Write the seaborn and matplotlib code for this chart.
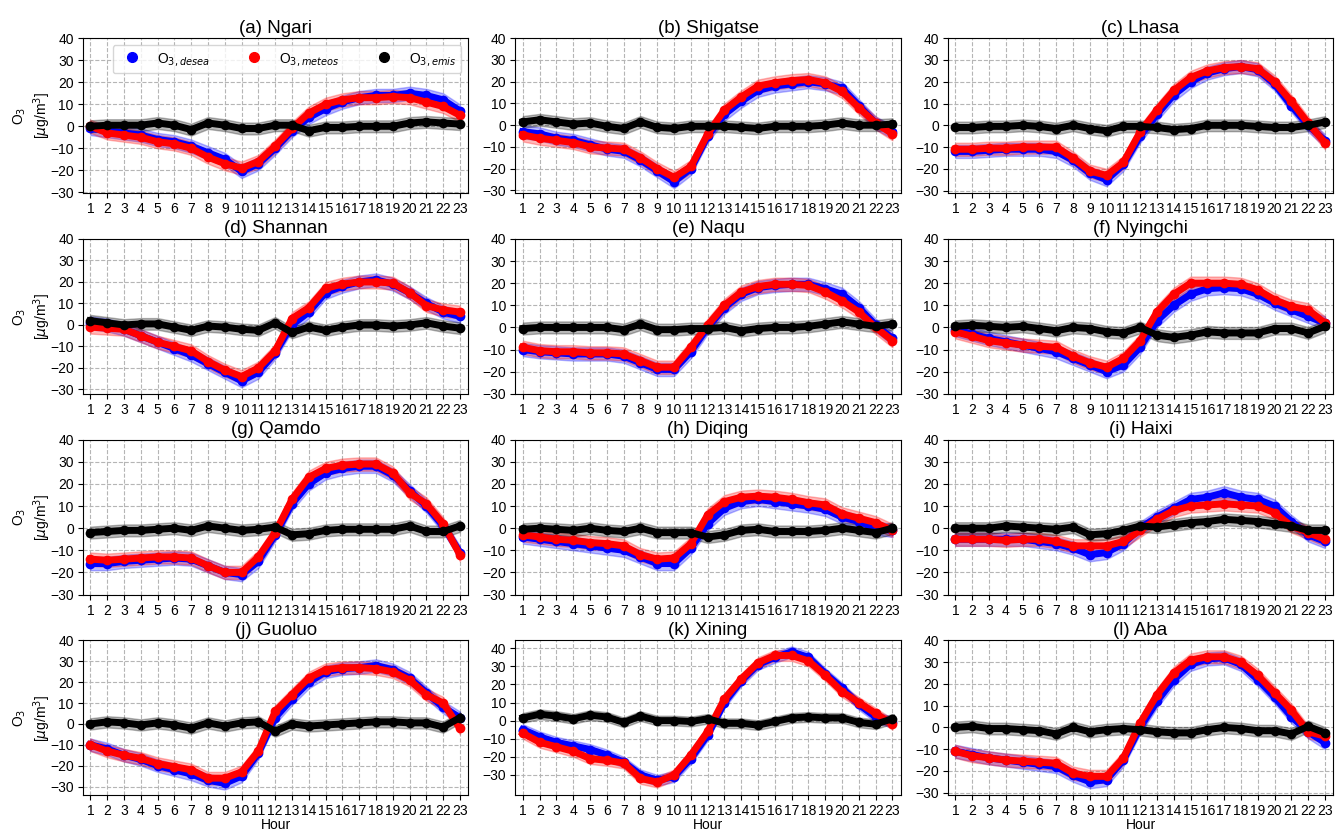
import matplotlib
matplotlib.use("Agg")
import matplotlib.pyplot as plt
from matplotlib.lines import Line2D
import numpy as np
import pandas as pd
import seaborn as sns

plt.rcParams['font.family'] = ['Liberation Sans', 'DejaVu Sans']

HOURS = list(range(1, 24))
SITES = ["(a) Ngari", "(b) Shigatse", "(c) Lhasa", "(d) Shannan", "(e) Naqu", "(f) Nyingchi",
         "(g) Qamdo", "(h) Diqing", "(i) Haixi", "(j) Guoluo", "(k) Xining", "(l) Aba"]
SERIES = ["desea", "meteos", "emis"]
LEGEND_LABELS = [r"O$_{3,desea}$", r"O$_{3,meteos}$", r"O$_{3,emis}$"]

NGARI_DESEA = [-1, -2, -3, -4, -6, -7, -9, -12, -15, -20.5, -17, -10, -2, 4, 8, 11, 13, 14, 14, 15, 14, 12, 7]
NGARI_METEOS = [0, -3, -4, -5, -7, -8, -10, -14, -17, -19, -16, -9, -1, 6, 10, 12, 13, 13, 13.5, 13, 11, 9, 5]
NGARI_EMIS = [0, 0.5, 0.5, 0.5, 1.5, 0.5, -1.5, 1.5, 0.5, -1, -1, 0.5, 0.5, -2, -0.5, -0.5, 0, 0, 0, 1.5, 2, 1.5, 1]

SHIGATSE_DESEA = [-3, -4, -6, -7, -9, -11, -12, -16, -21, -26, -20, -5, 5, 11, 16, 18, 19, 20, 19, 17, 9, 1, -3]
SHIGATSE_METEOS = [-4.5, -6, -7, -8, -10, -10.5, -11, -15, -20, -24, -19, -4, 7, 13, 18, 19.5, 20.5, 21, 19.5, 15.5, 8, 1, -4]
SHIGATSE_EMIS = [1.5, 2.5, 1.5, 0.5, 1, -0.5, -1.5, 1.5, -1, -1.5, -0.5, -0.5, -0.5, -1, -1.5, -0.5, -0.5, -0.5, 0, 1, 0, 0, 0.5]

LHASA_DESEA = [-12, -12, -11.5, -11, -11, -11, -12, -16, -22, -25, -18, -5, 5, 14, 20, 24, 26, 27, 25.5, 19, 9, 0, -7]
LHASA_METEOS = [-11, -11, -10.5, -10.5, -10, -10, -10, -15, -21, -23, -17, -3, 7, 16, 22, 25, 26.5, 27, 26, 20, 11, 1, -8]
LHASA_EMIS = [-1, -1, -0.5, -0.5, 0, -0.5, -1.5, 0, -1.5, -2.5, -0.5, -0.5, -1, -2, -1.5, 0, 0, 0, -0.5, -1, -1, 0, 1.5]

SHANNAN_DESEA = [1, 0, -2, -5, -8, -11, -14, -18, -22, -26, -22, -13, 0, 6, 15, 18, 20, 21, 19, 15, 10, 6, 4]
SHANNAN_METEOS = [-1, -1.5, -2, -5, -8, -10, -12, -17, -21, -24, -20, -12, 3, 8, 17, 19, 20, 20, 19.5, 15, 9, 7, 6]
SHANNAN_EMIS = [2, 1, 0, 0.5, 0.5, -1, -2.5, -0.5, -1, -2, -2.5, 1, -3.5, -1, -2.5, -1, 0, 0, -0.5, 0, 1, -0.5, -1.5]

NAQU_DESEA = [-10, -11, -11.5, -12, -12, -12, -13, -16, -19, -19, -11, 0, 9, 15, 18, 19, 19.5, 19.5, 17.5, 15, 9, 1, -5]
NAQU_METEOS = [-9, -10.5, -11, -11, -11.5, -11.5, -12, -15, -18, -18, -9, 1, 10, 16, 18.5, 19.5, 19.5, 19, 16, 12, 7, 0, -6]
NAQU_EMIS = [-0.5, 0, 0, 0, 0, 0, -1, 1.5, -1, -1, -0.5, -0.5, 0, -1.5, -0.5, 0, 0, 0.5, 1.5, 2.5, 1.5, 0.5, 1.5]

NYINGCHI_DESEA = [-1, -3, -5, -6.5, -8, -9.5, -11, -14, -17, -20, -17, -9, 3, 10, 15, 17.5, 18, 17.5, 15, 11, 8, 5, 2]
NYINGCHI_METEOS = [-2, -4, -6, -7, -8, -8.5, -9, -13, -16, -18, -14, -6, 7, 15, 20, 20, 20, 19.5, 17, 12.5, 9.5, 8, 2]
NYINGCHI_EMIS = [0.5, 1, 0.5, 0, 0.5, -0.5, -1.5, 0, -0.5, -2, -2.5, 0, -3.5, -4.5, -3.5, -2, -2.5, -2.5, -2.5, -0.5, -0.5, -2.5, 0.5]

QAMDO_DESEA = [-16, -16, -15, -14.5, -14, -13.5, -14, -17, -20, -21, -15, -3, 11, 20, 25, 27, 28, 28, 24, 17, 10, 1, -11]
QAMDO_METEOS = [-14, -14.5, -14, -13.5, -13, -13, -13.5, -17, -20, -20, -13, -2, 13, 23, 27, 28.5, 29, 29, 25, 16, 11, 2, -12]
QAMDO_EMIS = [-2, -1.5, -1, -1, -0.5, 0, -1, 1, 0, -1, -0.5, 0.5, -3, -2.5, -1, -0.5, -0.5, -0.5, -0.5, 1, -1.5, -1.5, 1]

DIQING_DESEA = [-4, -5, -6, -7, -8, -9, -10, -13, -16, -16, -9, 2, 9, 12, 13, 12, 11, 10, 8.5, 5, 3, 0, -1]
DIQING_METEOS = [-3, -4, -5, -5.5, -6.5, -7, -8, -12, -14, -13.5, -7, 6, 12, 14, 14.5, 14, 13, 11.5, 10.5, 6.5, 4.5, 2.5, -1]
DIQING_EMIS = [-0.5, 0, -0.5, -1, 0, -1, -1.5, 0, -2, -2, -2, -4, -3, -1, -0.5, -1.5, -1.5, -1.5, -1, 0, -1, -2, 0]

HAIXI_DESEA = [-5, -5, -5, -5, -5, -6, -7, -9, -12, -11, -7, 0, 5, 9, 13, 14, 16, 14, 13, 10, 3, -3, -6]
HAIXI_METEOS = [-5, -5, -5, -5.5, -5, -5, -6, -8, -8, -8, -6, -1, 4, 8, 10, 10.5, 11, 10.5, 10, 7, 1, -2, -5]
HAIXI_EMIS = [0, 0, 0, 1, 0.5, 0, -0.5, 0.5, -3, -2.5, -1, 1, 0.5, 1.5, 2.5, 3, 4, 3.5, 3, 2, 1, -1, -1]

GUOLUO_DESEA = [-10, -12, -15, -17, -20, -22, -24, -27, -28.5, -25, -14, 3, 12, 20, 25, 26.5, 27, 28, 26, 22, 15, 8, 3]
GUOLUO_METEOS = [-10, -13, -15, -16.5, -19, -20.5, -22, -26, -26, -23, -13, 6, 14, 22, 26, 27, 27, 26.5, 25, 21, 14, 10, -2]
GUOLUO_EMIS = [0, 1, 0.5, -0.5, 0.5, -0.5, -2, 0.5, -1, 0.5, 1, -3.5, 0, -1, -0.5, 0, 0.5, 1, 1, 0.5, 0.5, -1.5, 3]

XINING_DESEA = [-5, -9, -12, -14, -16, -19, -23, -30, -33, -31, -21, -8, 10, 22, 31, 35, 38, 35, 26, 18, 9, 2, -1]
XINING_METEOS = [-7, -12, -14.5, -17, -21, -22, -23.5, -32, -34, -30, -19, -6, 12, 23, 32, 36, 36, 33, 25, 16, 10, 4, -2]
XINING_EMIS = [1.5, 3.5, 2.5, 1, 3, 2, -1, 2.5, 0, 0, -0.5, 1, -1.5, -1.5, -2.5, -0.5, 1.5, 2, 1.5, 1.5, -1, -2, 1]

ABA_DESEA = [-11, -12.5, -14, -15, -16, -17, -18, -22, -25, -24, -15, 0, 12, 22, 29, 31.5, 32, 29, 22, 14, 5, -2, -7]
ABA_METEOS = [-11, -13, -14, -15, -15.5, -16, -16.5, -21, -22.5, -22.5, -14, 2, 15, 25, 31, 32.5, 32.5, 30, 24, 16, 8, -2, -4]
ABA_EMIS = [0, 0.5, -0.5, -0.5, -1, -1.5, -3, 0, -2, -1, -0.5, -1, -2, -2.5, -2.5, -1, 0, -0.5, -1.5, -1.5, -3, 0.5, -2.5]

# half-width of the shaded uncertainty band for each series
BAND_DESEA = 3.0
BAND_METEOS = 3.0
BAND_EMIS = 2.7

SITE_DATA = [
    (NGARI_DESEA, NGARI_METEOS, NGARI_EMIS),
    (SHIGATSE_DESEA, SHIGATSE_METEOS, SHIGATSE_EMIS),
    (LHASA_DESEA, LHASA_METEOS, LHASA_EMIS),
    (SHANNAN_DESEA, SHANNAN_METEOS, SHANNAN_EMIS),
    (NAQU_DESEA, NAQU_METEOS, NAQU_EMIS),
    (NYINGCHI_DESEA, NYINGCHI_METEOS, NYINGCHI_EMIS),
    (QAMDO_DESEA, QAMDO_METEOS, QAMDO_EMIS),
    (DIQING_DESEA, DIQING_METEOS, DIQING_EMIS),
    (HAIXI_DESEA, HAIXI_METEOS, HAIXI_EMIS),
    (GUOLUO_DESEA, GUOLUO_METEOS, GUOLUO_EMIS),
    (XINING_DESEA, XINING_METEOS, XINING_EMIS),
    (ABA_DESEA, ABA_METEOS, ABA_EMIS),
]
BANDS = [BAND_DESEA, BAND_METEOS, BAND_EMIS]
COLORS = ["blue", "red", "black"]

Y_LOWER = [-30.3, -31.2, -31.1, -32.0, -30.0, -30.0, -30.0, -30.0, -30.0, -34.2, -41.3, -31.2]
Y_UPPER = [40, 40, 40, 40, 40, 40, 40, 40, 40, 40, 44.3, 40]

rows = []
for site, triple in zip(SITES, SITE_DATA):
    for s, vals in zip(SERIES, triple):
        for h, v in zip(HOURS, vals):
            rows.append({"site": site, "series": s, "hour": h, "o3": v})
df = pd.DataFrame(rows)

fig, axes = plt.subplots(4, 3, figsize=(13.36, 8.31), dpi=100)
fig.subplots_adjust(left=0.062, right=0.998, top=0.954, bottom=0.043, wspace=0.122, hspace=0.297)

for i, (ax, site) in enumerate(zip(axes.flat, SITES)):
    sub = df[df.site == site]
    for s, col, band in zip(SERIES, COLORS, BANDS):
        d = sub[sub.series == s]
        y = d["o3"].to_numpy()
        ax.fill_between(d["hour"], y - band, y + band, color=col, alpha=0.28, lw=1, zorder=2)
        sns.lineplot(data=d, x="hour", y="o3", color=col, lw=5, marker="o", markersize=7,
                     markeredgewidth=0, errorbar=None, legend=False, ax=ax, zorder=3)
    ax.set_xlim(0.55, 23.5)
    ax.set_ylim(Y_LOWER[i], Y_UPPER[i])
    ax.set_xticks(HOURS)
    ax.set_xticklabels([str(h) for h in HOURS])
    ax.set_yticks(range(-30, 41, 10))
    ax.tick_params(labelsize=10, length=3.5, pad=3)
    ax.grid(True, linestyle="--", color="#b5b5b5", linewidth=0.8)
    ax.set_axisbelow(True)
    ax.set_title(site, fontsize=13.5, pad=4)
    if i % 3 == 0:
        ax.set_ylabel("O$_3$\n[$\\mu$g/m$^3$]", fontsize=10, labelpad=-2)
    else:
        ax.set_ylabel("")
    if i >= 9:
        ax.set_xlabel("Hour", fontsize=10, labelpad=0)
    else:
        ax.set_xlabel("")

handles = [Line2D([], [], linestyle="", marker="o", markersize=7, color=c) for c in COLORS]
axes[0, 0].legend(handles, LEGEND_LABELS, loc="upper right", ncol=3, fontsize=10,
                  handletextpad=0.8, columnspacing=2.2, borderaxespad=0.5, frameon=True)

fig.savefig("out.png", dpi=100)
